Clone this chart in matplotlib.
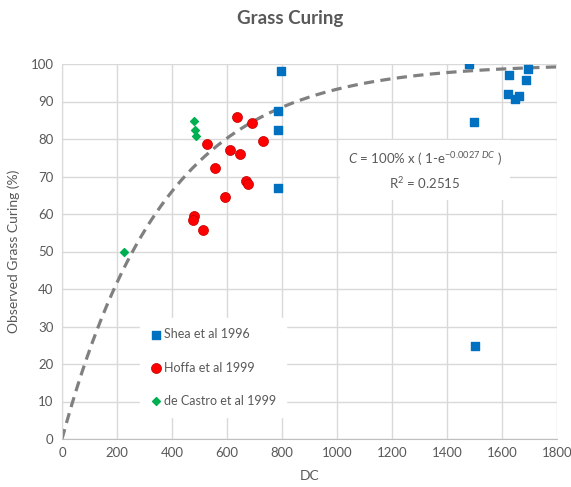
import numpy as np
import matplotlib
matplotlib.use("Agg")
import matplotlib.pyplot as plt

plt.rcParams['font.family'] = ['Lato', 'DejaVu Sans']
plt.rcParams['mathtext.fontset'] = 'custom'
plt.rcParams['mathtext.rm'] = 'Lato'
plt.rcParams['mathtext.it'] = 'Lato:italic'

# Data
shea_dc = [1479, 796, 784, 784, 784, 1498, 1502, 1627, 1696, 1687, 1622, 1647, 1663]
shea_cur = [100, 98.1, 87.4, 82.3, 66.9, 84.5, 24.8, 97.0, 98.8, 95.8, 91.9, 90.7, 91.6]

hoffa_dc = [636, 691, 730, 527, 610, 646, 556, 668, 675, 593, 480, 475, 512]
hoffa_cur = [86.0, 84.2, 79.6, 78.8, 77.2, 76.1, 72.4, 68.8, 68.0, 64.4, 59.5, 58.4, 55.7]

castro_dc = [480, 484, 487, 225]
castro_cur = [84.7, 82.3, 80.8, 49.9]

fit_k = 0.0027
r2 = 0.2515

grey = '#595959'

fig = plt.figure(figsize=(5.71, 4.87), dpi=100)
ax = fig.add_axes([62/571, 1-439/487, 495/571, 375/487])

dc = np.linspace(0, 1800, 400)
ax.plot(dc, 100*(1-np.exp(-fit_k*dc)), color='#808080', lw=2.3, ls=(0, (3.2, 2.0)), zorder=2)

ax.scatter(shea_dc, shea_cur, marker='s', s=32, color='#0070C0', zorder=3, label='Shea et al 1996')
ax.scatter(hoffa_dc, hoffa_cur, marker='o', s=52, color='#FF0000', edgecolors='#C00000', linewidths=0.5, zorder=3, label='Hoffa et al 1999')
ax.scatter(castro_dc, castro_cur, marker='D', s=16, color='#00B050', zorder=3, label='de Castro et al 1999')

ax.set_xlim(0, 1800)
ax.set_ylim(0, 100)
ax.set_xticks(np.arange(0, 1801, 200))
ax.set_yticks(np.arange(0, 101, 10))
ax.grid(True, color='#D9D9D9', lw=1)
ax.set_axisbelow(True)
for s in ['top', 'right']:
    ax.spines[s].set_visible(False)
ax.spines['left'].set_color('#D9D9D9')
ax.spines['bottom'].set_color('#BFBFBF')
ax.tick_params(length=0, colors=grey, labelsize=9.5, pad=6)

ax.set_xlabel('DC', color=grey, fontsize=10, labelpad=8)
ax.set_ylabel('Observed Grass Curing (%)', color=grey, fontsize=10, labelpad=8)
fig.text(0.508, 0.962, 'Grass Curing', ha='center', va='center', fontsize=13.5, fontweight='bold', color=grey)

leg = ax.legend(loc='lower left', bbox_to_anchor=(0.145, 0.043), frameon=True, fancybox=False,
                edgecolor='white', facecolor='white', framealpha=1, fontsize=9,
                labelspacing=1.69, handletextpad=0.1, handlelength=1.0, borderpad=0.8)
for t in leg.get_texts():
    t.set_color(grey)

ax.text(1320, 71.5, r'$\it{C}$ = 100% x ( 1-e$^{-0.0027\ \it{DC}}$ )' + '\n' + r'R$^2$ = 0.2515',
        ha='center', va='center', fontsize=9.5, color=grey, linespacing=1.5, zorder=4,
        bbox=dict(facecolor='white', edgecolor='none', pad=6))

fig.savefig('out.png', dpi=100)
